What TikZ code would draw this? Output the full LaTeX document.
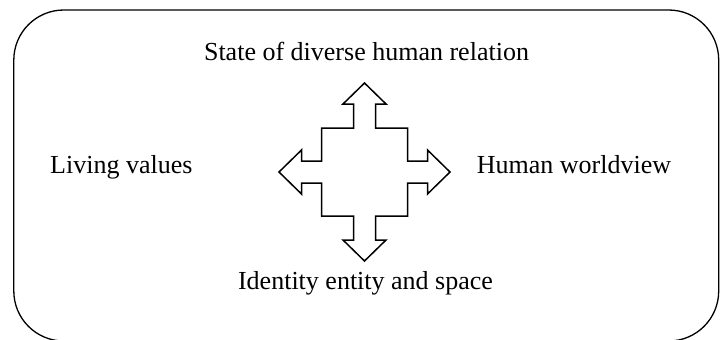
\documentclass[tikz,border=0pt]{standalone}
\usepackage{fontspec}
\setmainfont{Liberation Serif}
\begin{document}
\begin{tikzpicture}[x=1bp, y=-1bp, lbl/.style={inner sep=0pt, font=\fontsize{26bp}{31bp}\selectfont}]
\useasboundingbox (0,0) rectangle (720,339);
\draw[line width=1.3bp, rounded corners=50bp] (13.8,10) rectangle (718.7,341);
\coordinate (ctr) at (364.5,172);
\draw[line width=1.5bp, line join=miter, shift={(ctr)}] (0,-89) -- (21.5,-68) -- (11,-68) -- (11,-44) -- (43,-44) -- (43,-11) -- (63,-11) -- (63,-22) -- (85.5,0) -- (63,22) -- (63,11) -- (43,11) -- (43,44) -- (11,44) -- (11,68) -- (21.5,68) -- (0,89) -- (-21.5,68) -- (-11,68) -- (-11,44) -- (-43,44) -- (-43,11) -- (-63,11) -- (-63,22) -- (-85.5,0) -- (-63,-22) -- (-63,-11) -- (-43,-11) -- (-43,-44) -- (-11,-44) -- (-11,-68) -- (-21.5,-68) -- cycle;
\node[lbl, anchor=base] (top) at (366.5,60) {State of diverse human relation};
\node[lbl, anchor=base] (bot) at (365.5,289) {Identity entity and space};
\node[lbl, anchor=base west] (lft) at (50,173.3) {Living values};
\node[lbl, anchor=base west] (rgt) at (476.7,173.3) {Human worldview};
\end{tikzpicture}
\end{document}
